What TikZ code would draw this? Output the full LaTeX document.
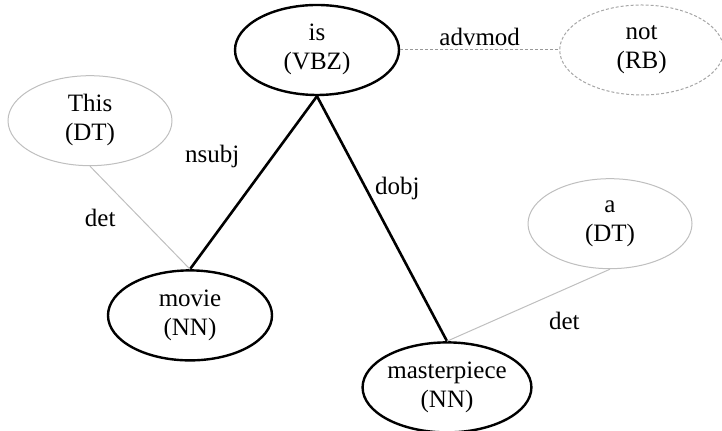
\documentclass[tikz,border=0pt]{standalone}
\usepackage{fontspec}
\setmainfont{Liberation Serif}
\usepackage{tikz}
\usetikzlibrary{shapes,positioning}

\begin{document}
\begin{tikzpicture}[
    word/.style={ellipse, draw, line width=1.2pt, fill=white, minimum width=82pt, minimum height=45pt, inner sep=0pt, align=center, text depth=3pt, font=\fontsize{12.5}{14.5}\selectfont},
    leaf/.style={word, draw=black!25, line width=0.5pt},
    optleaf/.style={leaf, draw=black!35, dashed, dash pattern=on 1.5pt off 1pt},
    dep/.style={line width=1.3pt},
    lightdep/.style={draw=black!25, line width=0.5pt},
    optdep/.style={draw=black!40, line width=0.5pt, dash pattern=on 1.5pt off 1pt},
    rel/.style={font=\fontsize{12.5}{14.5}\selectfont, inner sep=1pt}
]
\useasboundingbox (0,0) rectangle (361pt,-215.5pt);

% Root
\node[word] (is) at (158.5pt,-25pt) {is\\(VBZ)};
\node[optleaf, right=79.5pt of is] (not) {not\\(RB)};

% Dependents
\node[word, below=86.5pt of is, xshift=-63.5pt] (movie) {movie\\(NN)};
\node[word, below=122.5pt of is, xshift=65pt] (masterpiece) {masterpiece\\(NN)};
\node[leaf, above=51.5pt of movie, xshift=-50pt] (this) {This\\(DT)};
\node[leaf, above=36pt of masterpiece, xshift=81.5pt] (a) {a\\(DT)};

% Arcs
\draw[dep] (is.south) -- (movie.north) node[rel, pos=0.35, left=15pt] {nsubj};
\draw[dep] (is.south) -- (masterpiece.north) node[rel, pos=0.375, right=3pt] {dobj};
\draw[optdep] (is.east) -- (not.west) node[rel, midway, above=1pt] {advmod};
\draw[lightdep] (this.south) -- (movie.north) node[rel, midway, left=11pt] {det};
\draw[lightdep] (a.south) -- (masterpiece.north) node[rel, pos=0.28, below=10pt] {det};

\end{tikzpicture}
\end{document}
